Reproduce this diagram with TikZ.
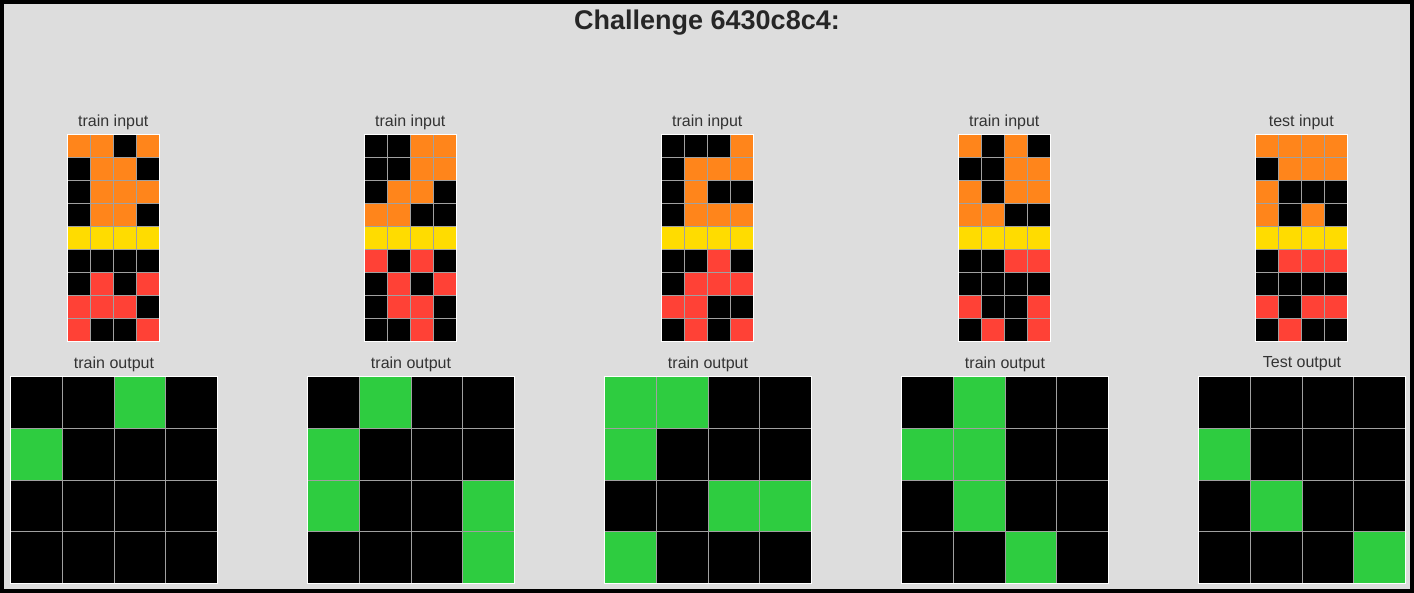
\documentclass[tikz,border=0pt]{standalone}
\usepackage{fontspec}
\setmainfont{Liberation Sans}
\definecolor{cK}{HTML}{000000}
\definecolor{cO}{HTML}{FF851B}
\definecolor{cY}{HTML}{FFDC00}
\definecolor{cR}{HTML}{FF4136}
\definecolor{cG}{HTML}{2ECC40}
\definecolor{bgc}{HTML}{DDDDDD}
\definecolor{gridc}{HTML}{A0A0A0}
\definecolor{titlec}{HTML}{262626}
\definecolor{labelc}{HTML}{333333}
\newcommand\arcgrid[6]{% x0, y0, cell, ncols, nrows, rows
  \foreach \row [count=\i] in {#6} {
    \foreach \c [count=\j] in \row {
      \filldraw[fill=c\c, draw=gridc, line width=0.8pt]
        ({#1+(\j-1)*#3},{#2+(\i-1)*#3}) rectangle ++(#3,#3);
    }
  }
  \draw[white, line width=1.5pt] (#1,#2) rectangle ++({#4*#3},{#5*#3});
}
\tikzset{
  lbl/.style={font=\fontsize{16}{18}\selectfont, text=labelc, inner sep=0pt, anchor=center},
  ttl/.style={font=\fontsize{27}{30}\selectfont\bfseries, text=titlec, inner sep=0pt, anchor=center}
}
\begin{document}
\begin{tikzpicture}[x=1pt,y=-1pt]
\useasboundingbox (0,0) rectangle (1414,593);
\fill[bgc] (0,0) rectangle (1414,593);
\draw[black, line width=4pt] (2,2) rectangle (1412,591);
\node[ttl] (title) at (707,22.5) {Challenge 6430c8c4:};
% labels
\node[lbl] (l1) at (113.3,122) {train input};
\node[lbl] (l2) at (410.3,122) {train input};
\node[lbl] (l3) at (707.3,122) {train input};
\node[lbl] (l4) at (1004.3,122) {train input};
\node[lbl] (l5) at (1301.3,122) {test input};
\node[lbl] (m1) at (114,364) {train output};
\node[lbl] (m2) at (411,364) {train output};
\node[lbl] (m3) at (708,364) {train output};
\node[lbl] (m4) at (1005,364) {train output};
\node[lbl] (m5) at (1302,364) {Test output};
% inputs
\arcgrid{67.3}{134.3}{23}{4}{9}{{O,O,K,O},{K,O,O,K},{K,O,O,O},{K,O,O,K},{Y,Y,Y,Y},{K,K,K,K},{K,R,K,R},{R,R,R,K},{R,K,K,R}}
\arcgrid{364.3}{134.3}{23}{4}{9}{{K,K,O,O},{K,K,O,O},{K,O,O,K},{O,O,K,K},{Y,Y,Y,Y},{R,K,R,K},{K,R,K,R},{K,R,R,K},{K,K,R,K}}
\arcgrid{661.3}{134.3}{23}{4}{9}{{K,K,K,O},{K,O,O,O},{K,O,K,K},{K,O,O,O},{Y,Y,Y,Y},{K,K,R,K},{K,R,R,R},{R,R,K,K},{K,R,K,R}}
\arcgrid{958.3}{134.3}{23}{4}{9}{{O,K,O,K},{K,K,O,O},{O,K,O,O},{O,O,K,K},{Y,Y,Y,Y},{K,K,R,R},{K,K,K,K},{R,K,K,R},{K,R,K,R}}
\arcgrid{1255.3}{134.3}{23}{4}{9}{{O,O,O,O},{K,O,O,O},{O,K,K,K},{O,K,O,K},{Y,Y,Y,Y},{K,R,R,R},{K,K,K,K},{R,K,R,R},{K,R,K,K}}
% outputs
\arcgrid{10.5}{376.5}{51.75}{4}{4}{{K,K,G,K},{G,K,K,K},{K,K,K,K},{K,K,K,K}}
\arcgrid{307.5}{376.5}{51.75}{4}{4}{{K,G,K,K},{G,K,K,K},{G,K,K,G},{K,K,K,G}}
\arcgrid{604.5}{376.5}{51.75}{4}{4}{{G,G,K,K},{G,K,K,K},{K,K,G,G},{G,K,K,K}}
\arcgrid{901.5}{376.5}{51.75}{4}{4}{{K,G,K,K},{G,G,K,K},{K,G,K,K},{K,K,G,K}}
\arcgrid{1198.5}{376.5}{51.75}{4}{4}{{K,K,K,K},{G,K,K,K},{K,G,K,K},{K,K,K,G}}
\end{tikzpicture}
\end{document}
